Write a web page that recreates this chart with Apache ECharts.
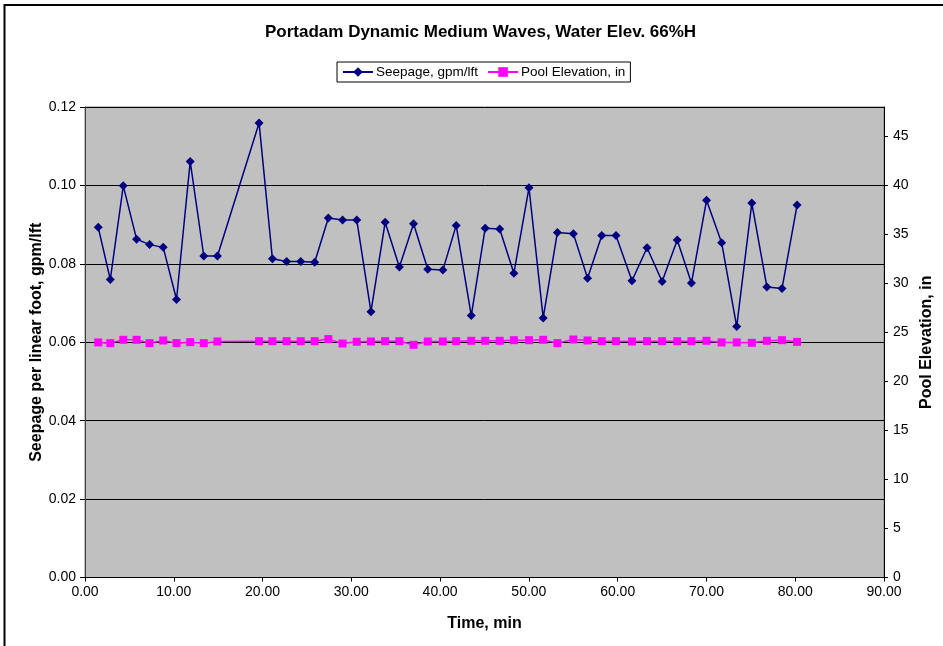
<!DOCTYPE html>
<html>
<head>
<meta charset="utf-8">
<script src="https://cdn.jsdelivr.net/npm/echarts@6/dist/echarts.min.js"></script>
<style>
html,body{margin:0;padding:0;background:#fff;}
#chart{width:943px;height:646px;}
</style>
</head>
<body>
<div id="chart"></div>
<script>
var titleText = 'Portadam Dynamic Medium Waves, Water Elev. 66%H';
var seriesNames = ['Seepage, gpm/lft', 'Pool Elevation, in'];
var timeMin = [1.49,2.85,4.31,5.81,7.27,8.81,10.31,11.85,13.38,14.92,19.61,21.11,22.71,24.30,25.87,27.41,29.01,30.61,32.21,33.81,35.41,37.01,38.61,40.31,41.81,43.51,45.08,46.71,48.31,50.01,51.61,53.21,55.01,56.61,58.21,59.81,61.61,63.31,65.01,66.71,68.31,70.01,71.71,73.41,75.11,76.81,78.51,80.21];
var seepage = [0.0893,0.0760,0.0999,0.0863,0.0849,0.0842,0.0709,0.1061,0.0820,0.0820,0.1159,0.0813,0.0806,0.0806,0.0804,0.0917,0.0912,0.0912,0.0678,0.0906,0.0792,0.0902,0.0786,0.0784,0.0898,0.0668,0.0891,0.0889,0.0776,0.0994,0.0662,0.0880,0.0877,0.0763,0.0872,0.0872,0.0757,0.0841,0.0755,0.0861,0.0751,0.0962,0.0854,0.0640,0.0955,0.0741,0.0737,0.0950];
var poolElev = [23.98,23.91,24.25,24.25,23.91,24.18,23.91,24.01,23.91,24.08,24.11,24.11,24.11,24.11,24.11,24.32,23.87,24.05,24.08,24.11,24.11,23.74,24.08,24.08,24.11,24.15,24.15,24.15,24.21,24.21,24.25,23.91,24.28,24.18,24.11,24.11,24.08,24.11,24.11,24.11,24.11,24.15,23.98,23.98,23.94,24.15,24.21,24.04];
var rightTicks = [0,5,10,15,20,25,30,35,40,45];

var FONT = '"Liberation Sans", Arial, sans-serif';
var chart = echarts.init(document.getElementById('chart'), null, {renderer: 'canvas'});
var seepData = timeMin.map(function (t, i) { return [t, seepage[i]]; });
var poolData = timeMin.map(function (t, i) { return [t, poolElev[i]]; });

chart.setOption({
  animation: false,
  backgroundColor: '#ffffff',
  textStyle: {fontFamily: FONT},
  title: {
    text: titleText,
    left: 265,
    top: 24,
    padding: 0,
    textStyle: {fontFamily: FONT, fontSize: 17, fontWeight: 'bold', color: '#000'}
  },
  legend: {
    left: 337,
    top: 62,
    padding: [3, 5, 3, 5],
    itemGap: 9,
    itemWidth: 30,
    itemHeight: 12,
    borderColor: '#000',
    borderWidth: 1,
    backgroundColor: '#fff',
    textStyle: {fontFamily: FONT, fontSize: 13.5, color: '#000', padding: [0, 0, 0, -2]},
    data: seriesNames
  },
  grid: {
    left: 85,
    right: 58,
    top: 107,
    bottom: 68.5,
    show: true,
    backgroundColor: '#C0C0C0',
    borderColor: '#808080',
    borderWidth: 1
  },
  xAxis: {
    type: 'value',
    min: 0,
    max: 90,
    interval: 10,
    name: 'Time, min',
    nameLocation: 'middle',
    nameGap: 38,
    nameTextStyle: {fontFamily: FONT, fontSize: 16, fontWeight: 'bold', color: '#000'},
    axisLine: {show: true, onZero: false, lineStyle: {color: '#000', width: 1}},
    axisTick: {show: true, length: 4, lineStyle: {color: '#000'}},
    axisLabel: {fontFamily: FONT, fontSize: 14, color: '#000', margin: 8,
      formatter: function (v) { return v.toFixed(2); }},
    splitLine: {show: false}
  },
  yAxis: [
    {
      type: 'value',
      min: 0,
      max: 0.12,
      interval: 0.02,
      position: 'left',
      name: 'Seepage per linear foot, gpm/lft',
      nameLocation: 'middle',
      nameRotate: 90,
      nameGap: 40,
      nameMoveOverlap: false,
      nameTextStyle: {fontFamily: FONT, fontSize: 16, fontWeight: 'bold', color: '#000'},
      axisLine: {show: true, lineStyle: {color: '#404040', width: 1}},
      axisTick: {show: true, length: 5, lineStyle: {color: '#000'}},
      axisLabel: {fontFamily: FONT, fontSize: 14, color: '#000', margin: 9,
        formatter: function (v) { return v.toFixed(2); }},
      splitLine: {show: true, lineStyle: {color: '#000', width: 1}}
    },
    {
      type: 'value',
      min: 0,
      max: 48,
      position: 'right',
      name: 'Pool Elevation, in',
      nameLocation: 'middle',
      nameRotate: 90,
      nameGap: 35,
      nameMoveOverlap: false,
      nameTextStyle: {fontFamily: FONT, fontSize: 16, fontWeight: 'bold', color: '#000'},
      axisLine: {show: true, lineStyle: {color: '#000', width: 1}},
      axisTick: {show: true, length: 4, customValues: rightTicks, lineStyle: {color: '#000'}},
      axisLabel: {fontFamily: FONT, fontSize: 14, color: '#000', margin: 9, customValues: rightTicks},
      splitLine: {show: false}
    }
  ],
  series: [
    {
      name: seriesNames[0],
      type: 'line',
      yAxisIndex: 0,
      data: seepData,
      symbol: 'diamond',
      symbolSize: 9,
      showAllSymbol: true,
      lineStyle: {color: '#000080', width: 1.5},
      itemStyle: {color: '#000080'},
      z: 3
    },
    {
      name: seriesNames[1],
      type: 'line',
      yAxisIndex: 1,
      data: poolData,
      symbol: 'rect',
      symbolSize: 8,
      showAllSymbol: true,
      lineStyle: {color: '#FF00FF', width: 1.5},
      itemStyle: {color: '#FF00FF'},
      z: 2
    }
  ],
  graphic: [
    {
      type: 'polyline',
      silent: true,
      shape: {points: [[4.5, 646], [4.5, 5], [943, 5]]},
      style: {stroke: '#000', lineWidth: 2, fill: null}
    }
  ]
});
</script>
</body>
</html>
